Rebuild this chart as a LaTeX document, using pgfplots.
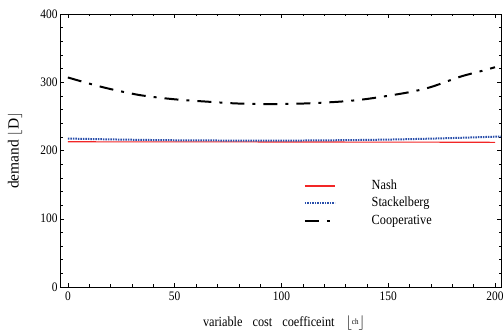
\documentclass[border=0pt]{standalone}
\usepackage{pgfplots}
\pgfplotsset{compat=1.18}
\usepackage{fontspec}
\setmainfont{Liberation Serif}[FakeStretch=0.88]
\newfontfamily\ylabfont{Liberation Serif}
\definecolor{nashred}{rgb}{0.95,0.15,0.15}
\definecolor{stackblue}{rgb}{0.16,0.31,0.67}
\begin{document}
\begin{tikzpicture}
\useasboundingbox (-60bp,-48bp) rectangle (444bp,287bp);
\begin{axis}[
  scale only axis,
  width=441bp, height=273bp,
  at={(0,0)}, anchor=south west,
  xmin=-3.7, xmax=202.8, ymin=0, ymax=400,
  xtick={0,50,100,150,200},
  ytick={0,100,200,300,400},
  minor x tick num=4,
  minor y tick num=4,
  tick align=inside,
  major tick length=4bp,
  minor tick length=2.5bp,
  tick style={black, line width=0.5pt},
  axis line style={line width=0.8pt},
  ticklabel style={font=\fontsize{13}{15}\selectfont},
  /pgf/number format/assume math mode=true,
  xticklabel style={yshift=-1bp},
  yticklabel style={xshift=1bp},
  xlabel={variable\hspace{10bp}cost\hspace{10bp}coefficeint\hspace{11bp}$\lfloor$\raisebox{0.3ex}{\footnotesize ch}$\rfloor$},
  ylabel={\ylabfont demand $\lfloor$D$\rfloor$},
  xlabel style={font=\fontsize{14}{16}\selectfont, at={(axis description cs:0.508,-0.132)}, anchor=center},
  ylabel style={font=\fontsize{15.5}{17}\selectfont, at={(axis description cs:-0.102,0.5)}, anchor=center},
  legend style={draw=none, fill=none, at={(0.5455,0.41)}, anchor=north west,
    font=\fontsize{14}{16}\selectfont, row sep=0.5bp,
    nodes={text height=10bp, text depth=3bp, inner ysep=2bp},
    cells={anchor=west}},
  legend image code/.code={\draw[#1] (0bp,0bp) -- (30bp,0bp);},
]
\addplot[color=nashred, line width=1.1pt,
  legend image code/.code={\draw[nashred, line width=1.6bp] (0bp,0bp) -- (30bp,0bp);}] coordinates {
(0,212.8) (50,212.6) (100,212.5) (150,212.3) (200,212.0)};
\addlegendentry{\hspace*{34bp}Nash}
\addplot[color=stackblue, line width=2pt, dash pattern=on 1.5bp off 1bp, smooth] coordinates {
(0,217.5) (25,216) (50,215) (75,214.6) (100,214.5) (125,215) (150,216) (175,217.8) (202.8,220.5)};
\addlegendentry{\hspace*{34bp}Stackelberg}
\addplot[black, line width=2pt, dash pattern=on 14bp off 8bp on 3bp off 8bp, smooth] coordinates {
(0,307) (10,298) (20,290) (34,281) (50,275) (68,271) (80,268.8) (95,268) (110,268.8) (127,271.5) (140,275.5) (158.6,284.7) (170,293) (183.6,308) (193.7,316.5) (200,322)};
\addlegendentry{\hspace*{34bp}Cooperative}
\end{axis}
\end{tikzpicture}
\end{document}
